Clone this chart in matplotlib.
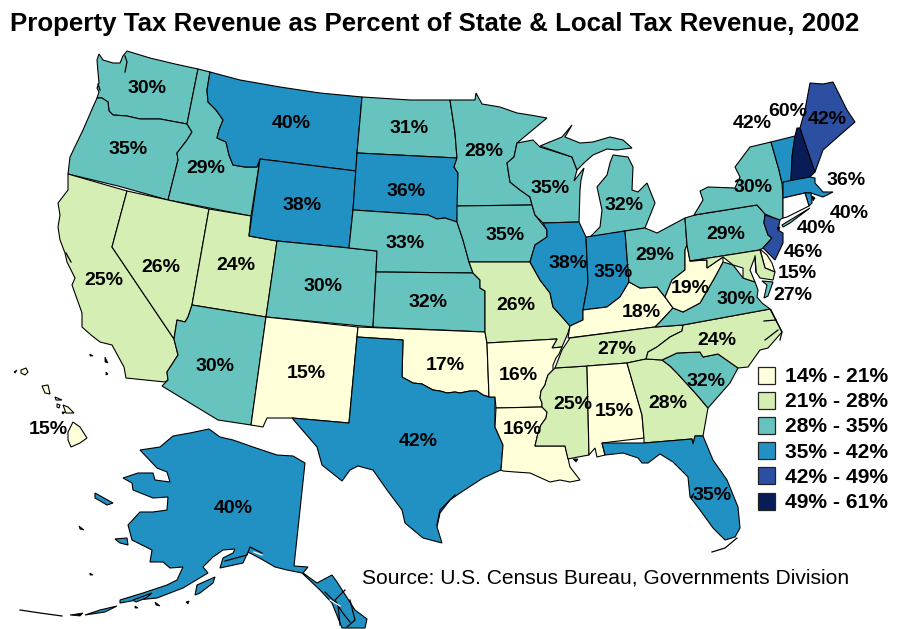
import matplotlib
matplotlib.use('Agg')
import matplotlib.pyplot as plt
from matplotlib.patches import Polygon, Rectangle

plt.rcParams['font.family'] = ['Liberation Sans', 'DejaVu Sans']

title = 'Property Tax Revenue as Percent of State & Local Tax Revenue, 2002'
source = 'Source: U.S. Census Bureau, Governments Division'

# legend classes
class_labels = ['14% - 21%', '21% - 28%', '28% - 35%', '35% - 42%', '42% - 49%', '49% - 61%']
class_colors = ['#ffffd9', '#d5eeb3', '#67c3bd', '#2091c2', '#2d4fa1', '#081d58']

# state, printed percent, class index (CT has no fill in the source map)
states = ['WA', 'OR', 'CA', 'ID', 'NV', 'UT', 'AZ', 'MT', 'WY', 'CO', 'NM', 'ND', 'SD', 'NE', 'KS', 'OK', 'TX',
          'MN', 'IA', 'MO', 'AR', 'LA', 'WI', 'IL', 'MS', 'MI', 'IN', 'KY', 'TN', 'AL', 'OH', 'GA', 'FL', 'SC',
          'NC', 'VA', 'WV', 'PA', 'NY', 'VT', 'NH', 'ME', 'MA', 'RI', 'CT', 'NJ', 'DE', 'MD', 'AK', 'HI']
percent = [30, 35, 25, 29, 26, 24, 30, 40, 38, 30, 15, 31, 36, 33, 32, 17, 42,
           28, 35, 26, 16, 16, 35, 38, 25, 32, 35, 18, 27, 15, 29, 28, 35, 32,
           24, 30, 19, 29, 30, 42, 60, 42, 36, 40, 40, 46, 15, 27, 40, 15]
state_class = [2, 2, 1, 2, 1, 1, 2, 3, 3, 2, 0, 2, 3, 2, 2, 0, 3,
               2, 2, 1, 0, 0, 2, 3, 1, 2, 3, 0, 1, 0, 2, 1, 3, 2,
               1, 2, 0, 2, 2, 3, 5, 4, 3, 3, None, 4, 0, 1, 3, 0]

# borders shared by two states
miss_ar = [(562, 347), (559, 354), (556, 358), (553, 365), (553, 370), (548, 375), (546, 381), (545, 385), (541, 391),
           (540, 398), (542, 403), (542, 407)]
miss_ms = [(555, 368), (553, 370), (548, 375), (546, 381), (545, 385), (541, 391), (540, 398), (542, 403), (542, 407),
           (547, 412), (546, 418), (541, 425), (538, 433), (535, 446)]
wa_or = [(97, 98), (102, 98), (108, 102), (109, 111), (113, 115), (127, 116), (140, 119), (160, 119), (187, 124)]
id_mt = [(210, 72), (207, 90), (208, 102), (216, 110), (223, 120), (219, 130), (217, 138), (226, 142), (229, 155),
         (233, 165), (245, 167), (257, 167), (260, 159)]
ok_tx = [(402, 377), (413, 383), (422, 384), (433, 390), (440, 391), (447, 393), (455, 392), (460, 393), (470, 391),
         (477, 391), (483, 395), (489, 397)]
mn_wi = [(517, 143), (514, 157), (507, 163), (510, 182), (520, 190), (530, 197), (532, 205)]
ia_il = [(532, 205), (535, 215), (547, 230), (547, 237), (535, 245), (530, 262)]
mo_il = [(530, 262), (535, 271), (540, 280), (550, 293), (553, 307), (563, 318), (570, 326)]
ga_sc = [(662, 360), (670, 366), (677, 373), (687, 384), (697, 395), (708, 408)]

shapes = {
    'WA': [[(99, 54), (103, 60), (113, 63), (120, 63), (123, 56), (127, 51), (150, 58), (175, 64), (198, 69), (187, 124)]
           + wa_or[::-1][1:] + [(99, 92), (97, 88), (99, 83), (98, 72), (97, 60)]],
    'OR': [wa_or + [(192, 132), (187, 140), (177, 153), (178, 160), (168, 200), (118, 186), (68, 174), (70, 157),
                    (83, 130), (93, 107)]],
    'CA': [[(68, 174), (127, 191), (112, 247), (174, 339), (178, 355), (167, 372), (168, 380), (165, 382), (126, 378),
            (124, 367), (112, 345), (100, 342), (91, 335), (82, 327), (82, 313), (72, 285), (75, 278), (67, 262),
            (65, 253), (60, 240), (58, 227), (60, 215), (58, 203), (68, 190)]],
    'ID': [[(198, 69)] + id_mt + [(251, 216), (168, 200), (178, 160), (177, 153), (187, 140), (192, 132), (187, 124)]],
    'NV': [[(127, 191), (209, 209), (192, 305), (188, 317), (185, 322), (177, 320), (174, 339), (112, 247)]],
    'UT': [[(209, 209), (251, 216), (249, 236), (277, 241), (266, 317), (192, 305)]],
    'AZ': [[(192, 305), (266, 317), (251, 425), (218, 420), (162, 386), (168, 380), (167, 372), (178, 355), (174, 339),
            (177, 320), (185, 322), (188, 317)]],
    'MT': [[(210, 72), (240, 80), (280, 87), (320, 93), (362, 97), (357, 153), (356, 171)] + id_mt[::-1]],
    'WY': [[(260, 159), (356, 171), (353, 210), (349, 248), (277, 241), (249, 236)]],
    'CO': [[(277, 241), (349, 248), (377, 251), (376, 272), (373, 327), (266, 317)]],
    'NM': [[(266, 317), (358, 327), (357, 337), (349, 423), (292, 418), (267, 418), (263, 427), (251, 425)]],
    'ND': [[(362, 97), (410, 100), (450, 100), (452, 113), (455, 133), (457, 158), (357, 153)]],
    'SD': [[(357, 153), (457, 158), (454, 167), (458, 173), (458, 205), (457, 222), (445, 218), (437, 219), (428, 215),
            (353, 210)]],
    'NE': [[(353, 210), (428, 215), (437, 219), (445, 218), (457, 222), (463, 240), (469, 262), (473, 273), (376, 272),
            (377, 251), (349, 248)]],
    'KS': [[(376, 272), (473, 273), (480, 280), (480, 288), (485, 291), (485, 332), (373, 327)]],
    'OK': [[(358, 327), (485, 332), (487, 343), (489, 397)] + ok_tx[::-1] + [(403, 340), (357, 337)]],
    'TX': [[(357, 337), (403, 340)] + ok_tx + [(495, 397), (495, 427), (503, 445), (501, 470), (483, 478), (460, 493),
            (450, 500), (440, 513), (437, 527), (442, 543), (423, 538), (405, 523), (402, 510), (387, 490), (373, 470),
            (358, 466), (350, 470), (342, 481), (322, 465), (317, 447), (292, 418), (349, 423)]],
    'MN': [[(450, 100), (475, 100), (476, 93), (482, 104), (500, 107), (517, 113), (530, 115), (547, 118)] + mn_wi
           + [(457, 206), (458, 173), (454, 167), (457, 158), (455, 133), (452, 113)]],
    'IA': [[(457, 206)] + ia_il + [(469, 262), (463, 240), (457, 222)]],
    'MO': [[(469, 262)] + mo_il + [(568, 333), (562, 347), (552, 348), (557, 339), (487, 343), (485, 332), (485, 291),
            (480, 288), (480, 280), (473, 273)]],
    'AR': [[(487, 343), (557, 339), (552, 348)] + miss_ar + [(496, 408), (495, 397), (489, 397)]],
    'LA': [[(496, 408), (542, 407), (547, 412), (546, 418), (541, 425), (538, 433), (535, 446), (565, 446), (568, 458),
            (570, 467), (580, 480), (570, 482), (560, 480), (550, 482), (530, 473), (515, 472), (503, 471), (501, 470),
            (503, 445), (495, 427)]],
    'WI': [[(517, 143), (533, 140), (540, 147), (572, 157), (577, 170), (574, 181), (584, 168), (581, 180), (580, 190),
            (579, 222), (543, 223), (535, 215)] + mn_wi[::-1][:-1]],
    'IL': [[(543, 223), (579, 222), (586, 237), (588, 283), (583, 310), (583, 320), (570, 326)] + mo_il[::-1]
           + ia_il[::-1][1:4]],
    'MS': [miss_ms[:1] + [(587, 366), (589, 455), (578, 457), (568, 459), (565, 446)] + miss_ms[::-1]],
    'MI': [[(540, 146), (562, 137), (572, 125), (565, 137), (580, 143), (593, 142), (610, 137), (623, 140), (632, 148),
            (617, 150), (607, 149), (593, 155), (585, 162), (577, 170), (572, 157)],
           [(613, 155), (628, 157), (633, 167), (632, 190), (638, 192), (647, 183), (655, 203), (645, 228), (625, 231),
            (590, 237), (600, 227), (602, 210), (597, 187), (607, 175), (610, 163)]],
    'IN': [[(586, 237), (625, 231), (629, 282), (620, 297), (607, 307), (583, 310), (588, 283)]],
    'KY': [[(568, 338), (570, 326), (583, 320), (583, 310), (607, 307), (620, 297), (629, 282), (640, 288), (657, 287),
            (665, 297), (673, 308), (660, 322), (655, 327)]],
    'TN': [[(570, 338), (655, 327), (683, 325), (682, 331), (670, 337), (657, 347), (648, 352), (646, 359), (627, 363),
            (587, 366), (555, 368), (562, 350)]],
    'AL': [[(587, 366), (627, 363), (642, 415), (644, 438), (602, 443), (605, 455), (597, 457), (595, 448), (589, 455)]],
    'OH': [[(625, 231), (645, 228), (657, 233), (685, 218), (687, 245), (685, 250), (685, 270), (672, 280), (665, 297),
            (657, 287), (640, 288), (629, 282)]],
    'GA': [[(627, 363), (646, 359)] + ga_sc + [(703, 436), (695, 436), (693, 444), (692, 439), (644, 443), (644, 438),
            (642, 415)]],
    'FL': [[(602, 443), (644, 443), (692, 439), (693, 444), (695, 436), (703, 436), (713, 460), (727, 480), (738, 507),
            (740, 528), (735, 537), (725, 540), (713, 528), (700, 510), (690, 497), (688, 477), (673, 462), (660, 454),
            (648, 463), (642, 463), (638, 458), (623, 453), (605, 455)]],
    'SC': [[(662, 360), (677, 353), (700, 352), (703, 357), (718, 354), (738, 368), (730, 383)] + ga_sc[::-1][:-1]],
    'NC': [[(646, 359), (648, 352), (657, 347), (670, 337), (682, 331), (683, 325), (770, 309), (782, 332), (768, 348),
            (760, 350), (748, 367), (738, 368), (718, 354), (703, 357), (700, 352), (677, 353), (662, 360)]],
    'VA': [[(655, 327), (660, 322), (673, 308), (683, 312), (700, 303), (715, 277), (723, 262), (733, 265), (743, 278),
            (755, 282), (758, 290), (757, 297), (762, 303), (770, 309), (683, 325)],
           [(762, 281), (773, 282), (768, 296), (764, 298), (767, 285)]],
    'WV': [[(687, 245), (690, 261), (707, 260), (707, 268), (723, 257), (723, 262), (715, 277), (700, 303), (683, 312),
            (673, 308), (665, 297), (672, 280), (685, 270), (685, 250)]],
    'PA': [[(685, 218), (695, 215), (757, 205), (765, 214), (764, 223), (768, 235), (772, 238), (763, 248), (760, 250),
            (690, 261), (687, 245)]],
    'NY': [[(694, 215), (703, 200), (700, 191), (708, 187), (735, 188), (740, 177), (735, 167), (750, 147), (771, 142),
            (779, 170), (782, 183), (783, 197), (783, 218), (779, 220), (765, 214), (757, 205)],
           [(782, 225), (810, 208), (790, 223), (783, 227)]],
    'VT': [[(771, 142), (795, 136), (792, 157), (791, 182), (782, 183), (779, 170)]],
    'NH': [[(795, 136), (797, 128), (800, 128), (815, 172), (810, 177), (791, 182), (792, 157)]],
    'ME': [[(800, 128), (805, 110), (810, 83), (823, 84), (833, 82), (847, 110), (855, 122), (840, 135), (823, 150),
            (815, 172)]],
    'MA': [[(783, 182), (810, 177), (815, 178), (815, 183), (823, 192), (833, 192), (823, 197), (811, 193), (805, 193),
            (783, 198)]],
    'RI': [[(805, 193), (811, 193), (812, 203), (809, 206)]],
    'CT': [[(783, 198), (805, 193), (809, 206), (787, 217), (783, 218)]],
    'NJ': [[(765, 215), (780, 220), (778, 230), (783, 233), (783, 243), (775, 260), (763, 248), (772, 238), (768, 235),
            (764, 223)]],
    'DE': [[(760, 249), (767, 255), (772, 263), (775, 272), (765, 268)]],
    'MD': [[(690, 261), (760, 250), (765, 268), (775, 272), (773, 280), (760, 278), (756, 272), (755, 257), (753, 262),
            (750, 270), (755, 282), (743, 278), (743, 268), (733, 265), (723, 257), (707, 268), (707, 260)]],
    'AK': [[(140, 450), (160, 447), (173, 436), (190, 433), (209, 429), (220, 437), (233, 440), (253, 447), (277, 455),
            (293, 456), (305, 463), (294, 566), (308, 567), (303, 573), (317, 583), (332, 575), (337, 582), (355, 610),
            (367, 619), (365, 628), (342, 628), (332, 603), (320, 590), (302, 573), (287, 570), (275, 567), (263, 560),
            (248, 552), (243, 563), (220, 568), (223, 558), (233, 553), (235, 549), (223, 550), (213, 557), (203, 567),
            (208, 573), (183, 588), (157, 598), (137, 600), (120, 603), (120, 600), (143, 593), (167, 585), (177, 580),
            (183, 567), (170, 568), (163, 562), (150, 562), (152, 550), (132, 540), (128, 525), (140, 512), (153, 512),
            (167, 510), (168, 497), (153, 498), (133, 490), (132, 483), (123, 478), (138, 473), (153, 473), (155, 480),
            (170, 482), (167, 472), (157, 468)],
           [(95, 493), (113, 503), (107, 505), (95, 498)],
           [(115, 539), (127, 538), (128, 545), (120, 543)],
           [(195, 595), (197, 585), (215, 577), (213, 583), (200, 593)],
           [(133, 600), (152, 593), (146, 598), (136, 602)],
           [(85, 615), (100, 610), (117, 606), (105, 612)]],
    'HI': [[(73, 422), (80, 427), (87, 438), (80, 443), (71, 447), (68, 440), (68, 432)],
           [(63, 405), (68, 407), (74, 413), (66, 413)],
           [(42, 386), (48, 385), (50, 394), (45, 393)],
           [(21, 370), (26, 368), (28, 372), (25, 375), (21, 373)],
           [(55, 397), (62, 400), (56, 400)],
           [(57, 404), (60, 405), (59, 408), (57, 407)]],
}

# black specks where the coast is too fine to show any fill
coast_bits = [
    [(812, 196), (815, 198), (813, 201)], [(777, 228), (780, 227), (779, 230)], [(573, 459), (578, 459), (576, 462)],
    [(691, 497), (694, 493), (692, 498)], [(79, 526), (84, 530), (80, 529)], [(90, 573), (93, 575), (90, 575)],
    [(186, 602), (189, 601), (188, 604)], [(70, 615), (83, 613), (80, 616)], [(155, 602), (160, 606), (156, 605)],
    [(135, 606), (138, 608), (135, 608)], [(105, 357), (108, 363), (105, 362)], [(106, 372), (108, 374), (106, 375)],
    [(90, 354), (93, 356), (90, 356)], [(14, 372), (17, 370), (15, 373)], [(62, 412), (65, 412), (63, 414)],
]
coast_lines = [
    [(125, 56), (127, 62), (125, 72)], [(20, 610), (40, 613), (62, 616)],
    [(345, 590), (335, 600), (342, 612), (350, 622)], [(325, 592), (338, 605), (340, 625)],
    [(350, 600), (355, 620), (347, 627)], [(225, 561), (247, 555), (250, 547), (262, 553)],
    [(712, 552), (725, 548), (737, 538)], [(771, 310), (782, 332), (780, 340)], [(764, 321), (776, 320)],
    [(765, 340), (778, 330)], [(755, 256), (756, 272)], [(437, 525), (440, 510), (455, 495)],
    [(66, 253), (71, 262)], [(98, 84), (100, 90)],
]
white_lines = [[(330, 600), (340, 606)], [(254, 552), (262, 555)]]

# where the percent labels sit
label_pos = {
    'WA': (147, 87), 'OR': (128, 148), 'CA': (104, 279), 'ID': (206, 167), 'NV': (161, 266), 'UT': (236, 264),
    'AZ': (215, 365), 'MT': (291, 122), 'WY': (302, 204), 'CO': (323, 285), 'NM': (306, 372), 'ND': (409, 127),
    'SD': (406, 190), 'NE': (405, 242), 'KS': (428, 301), 'OK': (445, 364), 'TX': (418, 440), 'MN': (484, 150),
    'IA': (505, 234), 'MO': (516, 304), 'AR': (518, 374), 'LA': (522, 428), 'WI': (550, 187), 'IL': (568, 262),
    'MS': (573, 403), 'MI': (624, 204), 'IN': (613, 271), 'KY': (641, 311), 'TN': (617, 348), 'AL': (614, 410),
    'OH': (655, 254), 'GA': (668, 402), 'FL': (712, 494), 'SC': (706, 380), 'NC': (717, 339), 'VA': (736, 298),
    'WV': (690, 287), 'PA': (726, 233), 'NY': (753, 186), 'VT': (752, 122), 'NH': (788, 110), 'ME': (827, 118),
    'MA': (846, 179), 'RI': (849, 212), 'CT': (816, 227), 'NJ': (803, 251), 'DE': (797, 272), 'MD': (793, 294),
    'AK': (233, 507), 'HI': (48, 428),
}

fig = plt.figure(figsize=(8.99, 6.29), dpi=100, facecolor='white')
ax = fig.add_axes([0, 0, 1, 1])
ax.set_xlim(0, 899)
ax.set_ylim(629, 0)
ax.axis('off')

for st, c in zip(states, state_class):
    col = 'white' if c is None else class_colors[c]
    for part in shapes[st]:
        ax.add_patch(Polygon(part, closed=True, facecolor=col, edgecolor='black', linewidth=0.8))

for bit in coast_bits:
    ax.add_patch(Polygon(bit, closed=True, facecolor='black', edgecolor='black', linewidth=0.6))
for ln in coast_lines:
    ax.plot(*zip(*ln), color='black', linewidth=0.9)
for ln in white_lines:
    ax.plot(*zip(*ln), color='white', linewidth=0.9)

for st, p in zip(states, percent):
    x, y = label_pos[st]
    ax.text(x, y + 1.5, f'{p}%', ha='center', va='center', fontsize=14, fontweight='bold', color='black')

# legend
for i, (lab, col) in enumerate(zip(class_labels, class_colors)):
    yc = 375 + i * 25.2
    ax.add_patch(Rectangle((757.5, yc - 8.5), 17, 17, facecolor=col, edgecolor='#222222', linewidth=0.9))
    ax.text(785, yc + 1.5, lab, ha='left', va='center', fontsize=15.1, fontweight='bold')

ax.text(10, 24.5, title, ha='left', va='center', fontsize=18.6, fontweight='bold')
ax.text(362, 578, source, ha='left', va='center', fontsize=15.15)

plt.savefig('out.png', dpi=100)
